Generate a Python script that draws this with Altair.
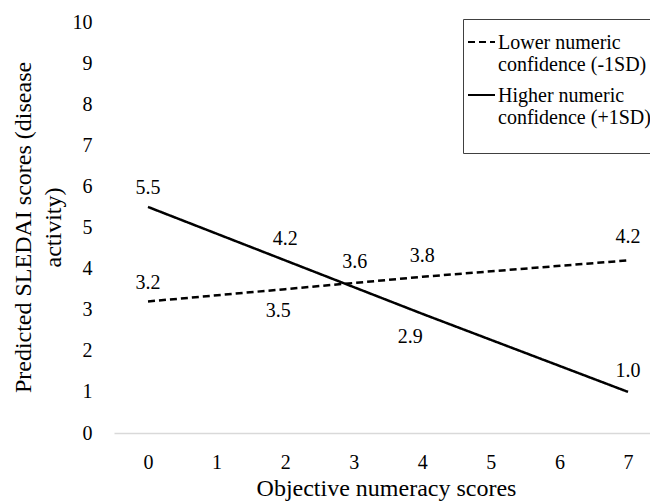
import altair as alt
import pandas as pd

# ---- data ----
x_points = [0, 2, 4, 7]
lower_vals = [3.2, 3.5, 3.8, 4.2]
higher_vals = [5.5, 4.2, 2.9, 1.0]
series_names = ["Lower numeric\nconfidence (-1SD)", "Higher numeric\nconfidence (+1SD)\n"]
cross_x = [3]
cross_vals = [3.6]
x_ticks = [0, 1, 2, 3, 4, 5, 6, 7]
y_ticks = [0, 1, 2, 3, 4, 5, 6, 7, 8, 9, 10]

FONT = "Liberation Serif"

rows = []
for xv, v in zip(x_points, lower_vals):
    rows.append({"x": xv, "y": v, "series": series_names[0]})
for xv, v in zip(x_points, higher_vals):
    rows.append({"x": xv, "y": v, "series": series_names[1]})
lines_df = pd.DataFrame(rows)

x_scale = alt.Scale(domain=[-0.496, 7.321], nice=False, zero=False)
y_scale = alt.Scale(domain=[0, 10], nice=False, zero=True)

x_enc = alt.X(
    "x:Q", scale=x_scale,
    axis=alt.Axis(
        values=x_ticks, title="Objective numeracy scores",
        grid=False, ticks=False, labelFlush=False,
        domainColor="#d9d9d9", domainWidth=1.5,
        labelFont=FONT, labelFontSize=20, labelPadding=19,
        titleFont=FONT, titleFontSize=24, titleFontWeight="normal",
        titleBaseline="alphabetic", titleX=272, titleY=62, titleAlign="center",
    ),
)
y_enc = alt.Y(
    "y:Q", scale=y_scale,
    axis=alt.Axis(
        values=y_ticks, title=["Predicted SLEDAI scores (disease", "activity)"],
        grid=False, ticks=False, domain=False,
        labelFont=FONT, labelFontSize=20, labelPadding=22,
        titleFont=FONT, titleFontSize=24, titleFontWeight="normal",
        titleAngle=270, titleBaseline="alphabetic", titleAlign="center",
        titleX=-84, titleY=205, titleLineHeight=30,
    ),
)

lines = alt.Chart(lines_df).mark_line(color="black", strokeWidth=2.5).encode(
    x=x_enc, y=y_enc,
    strokeDash=alt.StrokeDash(
        "series:N",
        scale=alt.Scale(domain=series_names, range=[[7, 4], [1, 0]]),
        legend=alt.Legend(
            title="\u00a0", titleOrient="right", titlePadding=14, titleFont=FONT,
            orient="none", legendX=349, legendY=-3,
            symbolType="M-0.9,0.9L1.8,0.9", symbolSize=400, symbolStrokeWidth=2,
            symbolStrokeColor="black",
            labelFont=FONT, labelFontSize=20, labelLimit=0,
            labelBaseline="top", labelOffset=10,
            strokeColor="#404040", padding=3, rowPadding=-15,
        ),
    ),
)

# label offsets (pixels) per point: (series index, x) -> (dx, dy)
offsets = {
    (0, 0): (0, -18), (0, 2): (-7, 22), (0, 4): (0, -21), (0, 7): (0, -23),
    (1, 0): (0, -19), (1, 2): (0, -21), (1, 4): (-12, 23), (1, 7): (0, -21),
}

layers = [lines]
for si, vals in enumerate([lower_vals, higher_vals]):
    for xv, v in zip(x_points, vals):
        dx, dy = offsets[(si, xv)]
        df = pd.DataFrame({"x": [xv], "y": [v], "lbl": [f"{v:.1f}"]})
        layers.append(
            alt.Chart(df).mark_text(font=FONT, fontSize=20, dx=dx, dy=dy,
                                    baseline="middle", align="center")
            .encode(x=x_enc, y=y_enc, text="lbl:N")
        )
for xv, v in zip(cross_x, cross_vals):
    df = pd.DataFrame({"x": [xv], "y": [v], "lbl": [f"{v:.1f}"]})
    layers.append(
        alt.Chart(df).mark_text(font=FONT, fontSize=20, dx=1, dy=-23,
                                baseline="middle", align="center")
        .encode(x=x_enc, y=y_enc, text="lbl:N")
    )

chart = (
    alt.layer(*layers)
    .properties(
        width=536, height=411,
        autosize=alt.AutoSizeParams(type="none"),
        padding={"left": 106, "top": 14, "right": 0, "bottom": 71},
        background="white",
    )
    .configure(
        lineBreak="\n",
        style={"guide-label": {"lineBreak": "\n"}},
        view=alt.ViewConfig(stroke=None),
    )
)

chart.save("out.html", embed_options={"renderer": "svg", "actions": False})
